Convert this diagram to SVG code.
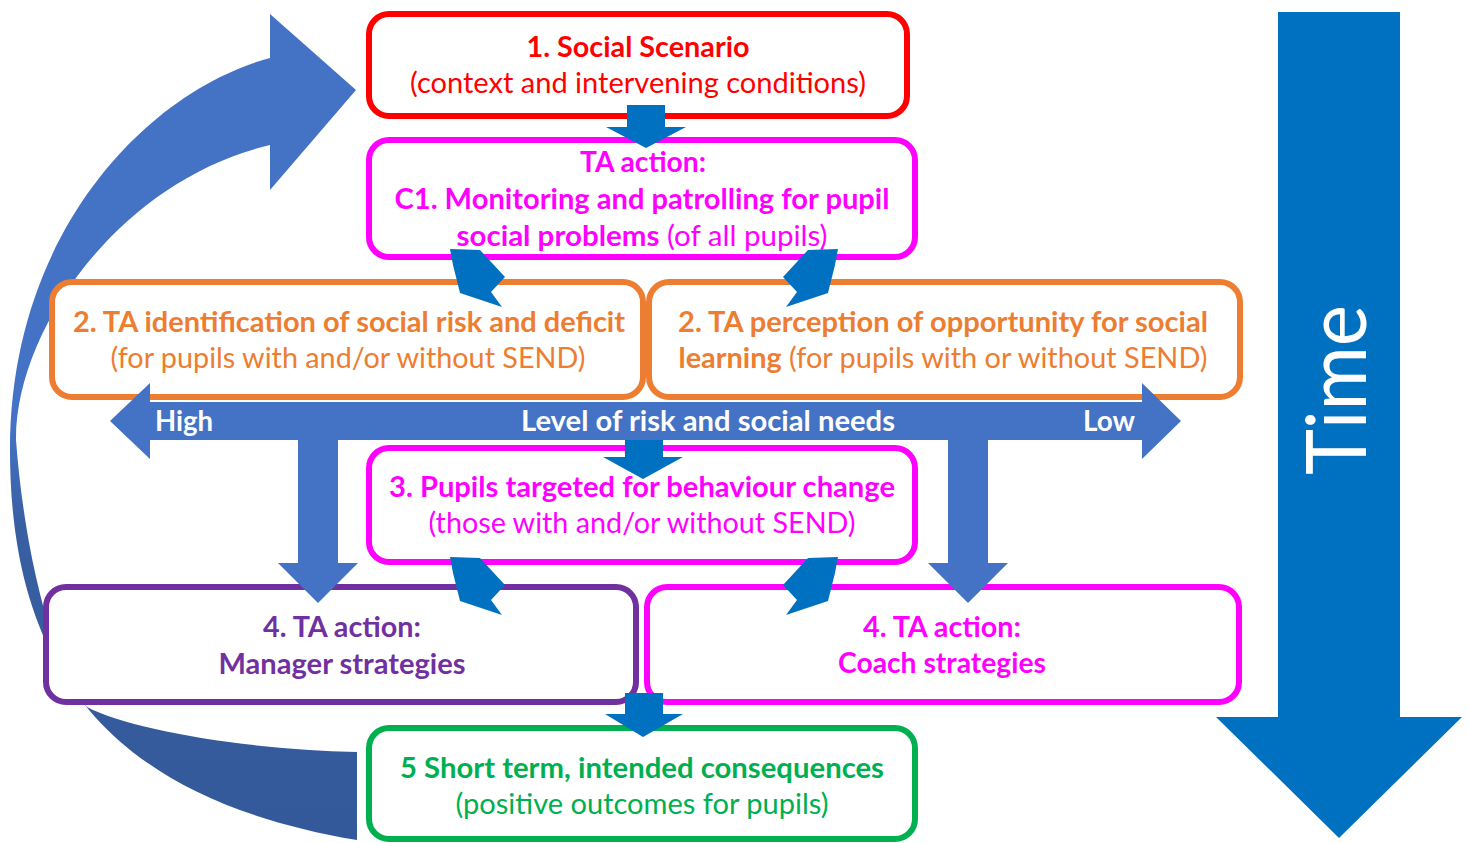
<svg xmlns="http://www.w3.org/2000/svg" width="1468" height="843" viewBox="0 0 1468 843">
<style>
.box{fill:#fff;stroke-width:6}
.t{font-family:Lato,"Open Sans","Liberation Sans",sans-serif;font-size:28px;text-anchor:middle}
.b{font-weight:bold}
.red{fill:#FF0000}.mag{fill:#FF00FF}.org{fill:#ED7D31}.pur{fill:#7030A0}.grn{fill:#00B050}.wht{fill:#fff}
.big{fill:#4472C4}
.sm{fill:#0070C0}
</style>
<defs>
<linearGradient id="arcg" gradientUnits="userSpaceOnUse" x1="0" y1="14" x2="0" y2="840">
<stop offset="0" stop-color="#4472C4"/>
<stop offset="0.5" stop-color="#4472C4"/>
<stop offset="0.62" stop-color="#385FA2"/>
<stop offset="1" stop-color="#34599A"/>
</linearGradient>
</defs>

<g id="cycle-arrow">
<path fill="url(#arcg)" d="M270,58 C150,90 10,230 10,450 C10,680 120,800 357,840 L357,752 C250,750 130,730 87,707 C55,670 25,560 16,440 C15,330 120,180 270,145 L270,190 L356,90 L270,14 Z"/>
</g>

<g id="time-arrow">
<polygon class="sm" points="1278,12 1400,12 1400,717 1462,717 1339,838 1216,717 1278,717"/>
<text class="t wht" style="font-size:84px" transform="translate(1366,390) rotate(-90)" textLength="170" lengthAdjust="spacingAndGlyphs">Time</text>
</g>

<g id="n1">
<rect class="box" x="369" y="14" width="538" height="102" rx="20" stroke="#FF0000"/>
<text class="t b red" x="638" y="57" textLength="223" lengthAdjust="spacingAndGlyphs">1. Social Scenario</text>
<text class="t red" x="638" y="93" textLength="456" lengthAdjust="spacingAndGlyphs">(context and intervening conditions)</text>
</g>

<g id="nC1">
<rect class="box" x="369" y="140" width="546" height="117" rx="20" stroke="#FF00FF"/>
<text class="t b mag" x="643" y="172" textLength="126" lengthAdjust="spacingAndGlyphs">TA action:</text>
<text class="t b mag" x="642" y="209" textLength="495" lengthAdjust="spacingAndGlyphs">C1. Monitoring and patrolling for pupil</text>
<text class="t mag" x="642" y="246" textLength="371" lengthAdjust="spacingAndGlyphs"><tspan class="b">social problems</tspan> (of all pupils)</text>
</g>

<g id="n2a">
<rect class="box" x="52" y="282" width="591" height="115" rx="20" stroke="#ED7D31"/>
<text class="t b org" x="349" y="332" textLength="552" lengthAdjust="spacingAndGlyphs">2. TA identification of social risk and deficit</text>
<text class="t org" x="348" y="368" textLength="475" lengthAdjust="spacingAndGlyphs">(for pupils with and/or without SEND)</text>
</g>

<g id="n2b">
<rect class="box" x="649" y="282" width="591" height="115" rx="20" stroke="#ED7D31"/>
<text class="t b org" x="943" y="332" textLength="530" lengthAdjust="spacingAndGlyphs">2. TA perception of opportunity for social</text>
<text class="t org" x="943" y="368" textLength="529" lengthAdjust="spacingAndGlyphs"><tspan class="b">learning</tspan> (for pupils with or without SEND)</text>
</g>

<g id="n3">
<rect class="box" x="369" y="448" width="546" height="114" rx="20" stroke="#FF00FF"/>
<text class="t b mag" x="642" y="497" textLength="506" lengthAdjust="spacingAndGlyphs">3. Pupils targeted for behaviour change</text>
<text class="t mag" x="642" y="533" textLength="427" lengthAdjust="spacingAndGlyphs">(those with and/or without SEND)</text>
</g>

<g id="n4a">
<rect class="box" x="46" y="587" width="590" height="115" rx="20" stroke="#7030A0"/>
<text class="t b pur" x="342" y="637" textLength="158" lengthAdjust="spacingAndGlyphs">4. TA action:</text>
<text class="t b pur" x="342" y="674" textLength="247" lengthAdjust="spacingAndGlyphs">Manager strategies</text>
</g>

<g id="n4b">
<rect class="box" x="647" y="587" width="592" height="115" rx="20" stroke="#FF00FF"/>
<text class="t b mag" x="942" y="637" textLength="158" lengthAdjust="spacingAndGlyphs">4. TA action:</text>
<text class="t b mag" x="942" y="673" textLength="208" lengthAdjust="spacingAndGlyphs">Coach strategies</text>
</g>

<g id="n5">
<rect class="box" x="369" y="728" width="546" height="111" rx="20" stroke="#00B050"/>
<text class="t b grn" x="642" y="778" textLength="484" lengthAdjust="spacingAndGlyphs">5 Short term, intended consequences</text>
<text class="t grn" x="642" y="814" textLength="373" lengthAdjust="spacingAndGlyphs">(positive outcomes for pupils)</text>
</g>

<g id="risk-axis">
<polygon class="big" points="110,421 150,383 150,402 1142,402 1142,383 1181,421 1142,459 1142,440 150,440 150,459"/>
<text class="t b wht" x="184" y="431" textLength="58" lengthAdjust="spacingAndGlyphs">High</text>
<text class="t b wht" x="708" y="431" textLength="374" lengthAdjust="spacingAndGlyphs">Level of risk and social needs</text>
<text class="t b wht" x="1109" y="431" textLength="52" lengthAdjust="spacingAndGlyphs">Low</text>
</g>

<g id="connectors">
<polygon class="big" points="298,440 338,440 338,563 358,563 318,603 278,563 298,563"/>
<polygon class="big" points="948,440 988,440 988,563 1008,563 968,603 928,563 948,563"/>
<polygon class="sm" points="627,105 665,105 665,127 686,127 646,148 606,127 627,127"/>
<polygon class="sm" points="625,440 663,440 663,457 683,457 643,479 603,457 625,457"/>
<polygon class="sm" points="625,693 663,693 663,714 683,714 643,737 605,714 625,714"/>
<polygon class="sm" points="450,249 480,250 505,277 491,292 502,307 460,293 453,265"/>
<polygon class="sm" points="838,249 808,250 783,277 797,292 786,307 828,293 835,265"/>
<polygon class="sm" points="450,557 480,558 505,585 491,600 502,615 460,601 453,573"/>
<polygon class="sm" points="838,557 808,558 783,585 797,600 786,615 828,601 835,573"/>
</g>
</svg>
